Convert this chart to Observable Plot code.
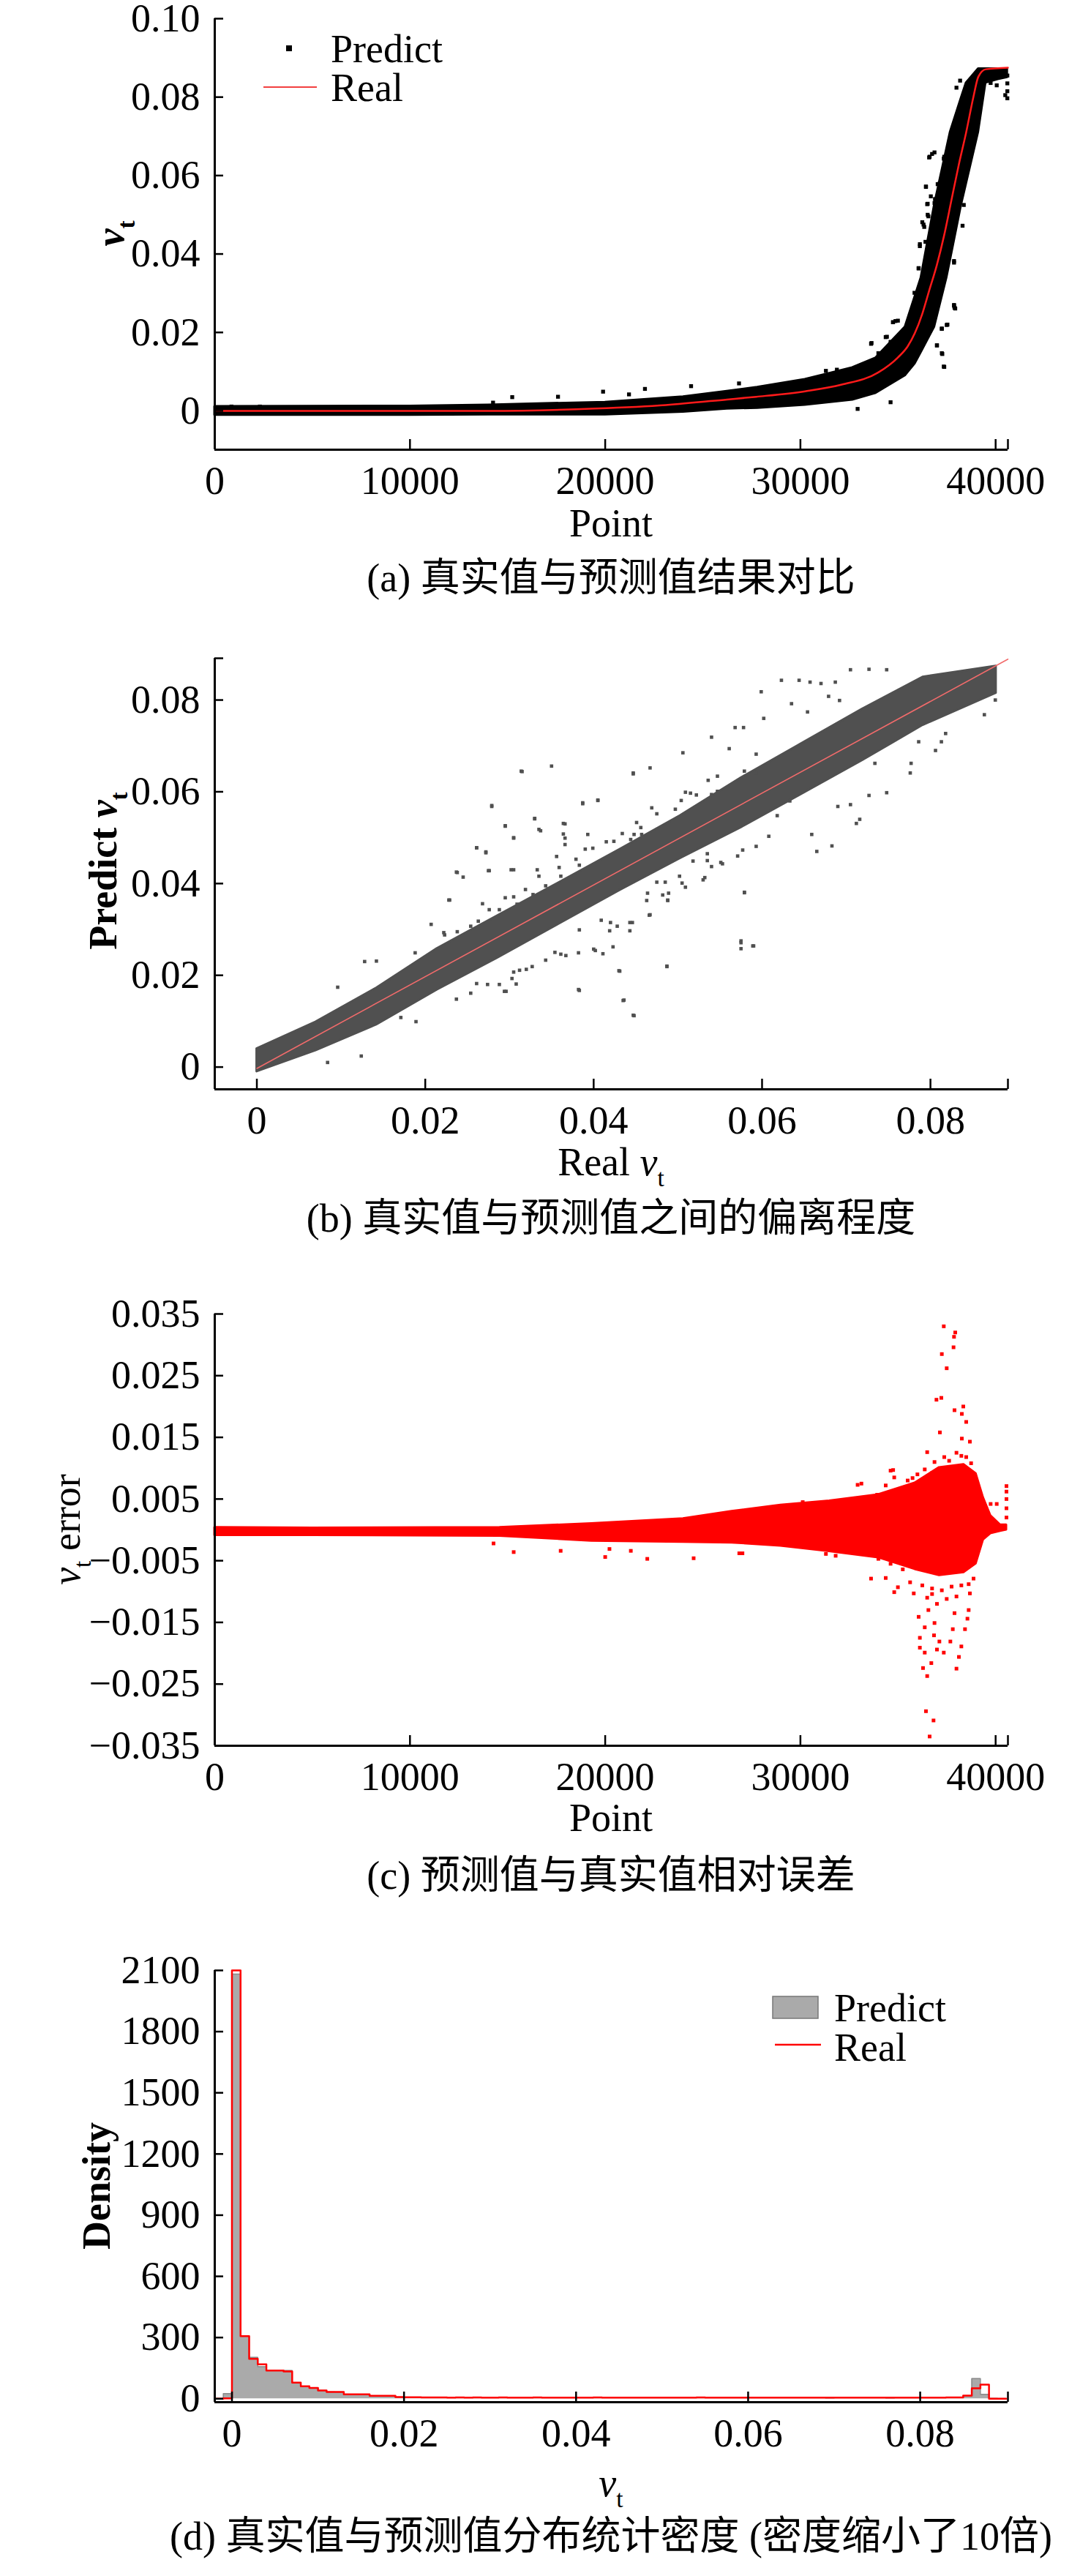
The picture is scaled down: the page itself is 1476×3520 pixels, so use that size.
<!DOCTYPE html>
<html>
<head>
<meta charset="utf-8">
<script src="https://cdn.jsdelivr.net/npm/d3@7"></script>
<script src="https://cdn.jsdelivr.net/npm/@observablehq/plot@0.6"></script>
<style>
html,body{margin:0;padding:0;background:#fff;overflow:hidden;}
body{width:1476px;height:3520px;position:relative;font-family:'Liberation Serif','Noto Sans CJK SC',serif;}
.panel{position:absolute;left:0;width:1476px;}
.caption{position:absolute;left:135px;width:1400px;text-align:center;font-size:54px;line-height:54px;white-space:nowrap;color:#000;font-family:'Liberation Serif','Noto Sans CJK SC',serif;}
</style>
</head>
<body>
<div id="pa" class="panel" style="top:0px"></div>
<div class="caption" style="top:763px">(a) 真实值与预测值结果对比</div>
<div id="pb" class="panel" style="top:830px"></div>
<div class="caption" style="top:1638px">(b) 真实值与预测值之间的偏离程度</div>
<div id="pc" class="panel" style="top:1720px"></div>
<div class="caption" style="top:2536px">(c) 预测值与真实值相对误差</div>
<div id="pd" class="panel" style="top:2610px"></div>
<div class="caption" style="top:3439px">(d) 真实值与预测值分布统计密度 (密度缩小了10倍)</div>
<script>
// ---------- Panel (a): real curve and predicted cloud over Point index ----------
const aRealPoint = [0, 14000, 19480, 23110, 26240, 27740, 30240, 32120, 33990, 34990, 35490, 35860, 36240, 36610, 36990, 37360, 37740, 38110, 38490, 38860, 39115, 39500, 40630];
const aRealValue = [0, 0.0000, 0.0006, 0.0015, 0.0029, 0.0036, 0.0050, 0.0067, 0.0098, 0.0136, 0.0164, 0.0198, 0.0247, 0.0309, 0.0372, 0.0447, 0.0538, 0.0627, 0.0710, 0.0800, 0.0852, 0.0871, 0.0875];
const aBandPoint = [0, 10000, 14000, 20000, 24000, 26240, 27800, 30240, 32670, 33869, 35369, 35869, 36181, 36869, 37494, 37681, 38244, 38494, 39119, 39494, 40120, 40600];
const aBandLow   = [-0.0011, -0.0011, -0.0010, -0.0010, -0.0003, 0.0005, 0.0007, 0.0015, 0.0028, 0.0045, 0.0090, 0.0120, 0.0149, 0.0214, 0.0339, 0.0385, 0.0525, 0.0578, 0.0711, 0.0836, 0.0845, 0.0850];
const aBandHigh  = [0.0011, 0.0012, 0.0015, 0.0022, 0.0036, 0.0050, 0.0060, 0.0080, 0.0110, 0.0135, 0.0214, 0.0291, 0.0339, 0.0525, 0.0668, 0.0711, 0.0798, 0.0836, 0.0872, 0.0872, 0.0872, 0.0872];
const aOutlierPoint = [36744, 36619, 37369, 36431, 37119, 36494, 36869, 36556, 36306, 36119, 37869, 36056, 37869, 37931, 37494, 37244, 36994, 37244, 37369, 33619, 34369, 34744, 34994, 32931, 34619, 31869, 31306, 33994, 14256, 15238, 19892, 21219, 22037, 24400, 26855, 17583, 857, 2312, 40600, 40600, 40600, 40600,
  36594, 36869, 37344, 36431, 37031, 36681, 36519, 36894, 36244, 36344, 36519, 36119, 36406, 36056, 36306, 35844, 37869, 38369, 38306, 37869, 37894, 37531, 37244, 36994, 37269, 37344, 34869, 34744, 34431, 34619, 33644, 37994, 38181, 39744, 40056, 40494];
const aOutlierValue = [0.0655, 0.0648, 0.0648, 0.0572, 0.0579, 0.0527, 0.0530, 0.0496, 0.0475, 0.0420, 0.0378, 0.0364, 0.0268, 0.0261, 0.0219, 0.0209, 0.0167, 0.0147, 0.0112, 0.0171, 0.0188, 0.0226, 0.0230, 0.0005, 0.0022, 0.0105, 0.0102, 0.0147, 0.0021, 0.0035, 0.0049, 0.0042, 0.0056, 0.0063, 0.0070, 0.0036, 0.0011, 0.0011, 0.0855, 0.0835, 0.0815, 0.0797,
  0.0646, 0.0659, 0.0643, 0.0571, 0.0578, 0.0547, 0.0528, 0.0540, 0.0481, 0.0469, 0.0500, 0.0425, 0.0431, 0.0363, 0.0357, 0.0301, 0.0382, 0.0525, 0.0472, 0.0270, 0.0263, 0.0220, 0.0210, 0.0167, 0.0145, 0.0113, 0.0229, 0.0226, 0.0189, 0.0176, 0.0173, 0.0824, 0.0842, 0.0836, 0.0830, 0.0805];
const aXTicks = [0, 10000, 20000, 30000, 40000];
const aYTicks = [0, 0.02, 0.04, 0.06, 0.08, 0.10];

// ---------- Panel (b): predicted vs real ----------
const bBandReal = [0, 0.007, 0.0142, 0.0214, 0.0286, 0.0359, 0.0431, 0.0503, 0.0575, 0.0647, 0.0719, 0.0791, 0.0878];
const bBandLow  = [-0.0010, 0.0036, 0.0092, 0.0168, 0.0238, 0.0312, 0.0385, 0.0455, 0.0522, 0.0595, 0.0668, 0.0745, 0.0815];
const bBandHigh = [0.0040, 0.0098, 0.0172, 0.0258, 0.0330, 0.0402, 0.0474, 0.0548, 0.0630, 0.0705, 0.0780, 0.0850, 0.0874];
const bOutlierReal = [0.0314,0.0350,0.0279,0.0295,0.0330,0.0305,0.0261,0.0272,0.0237,0.0276,0.0302,0.0229,0.0335,0.0364,0.0366,0.0387,0.0405,0.0447,0.0467,0.0506,0.0540,0.0568,0.0578,0.0602,0.0599,0.0623,0.0644,0.0657,0.0670,0.0687,0.0705,0.0727,0.0748,0.0635,0.0654,0.0679,0.0692,0.0712,0.0716,0.0665,0.0683,0.0659,0.0579,0.0575,0.0589,0.0487,0.0431,0.0382,0.0436,0.0447,0.0402,0.0420,0.0443,0.0467,0.0535,0.0551,0.0505,0.0488,0.0532,0.0748,0.0727,0.0776,0.0806,0.0818,0.0864,0.0877,0.0813,0.0705,0.0690,0.0124,0.0084,0.0096,0.0128,0.0142,0.0207,0.0222,0.0188,0.0294,0.0308,0.0189,0.0171,0.0618,0.0633,0.0608,0.0561,0.0593,0.0734,0.0786,0.0777,
  0.0315,0.0447,0.0279,0.0387,0.0405,0.0330,0.0295,0.0337,0.0305,0.0261,0.0272,0.0366,0.0364,0.0366,0.0393,0.0390,0.0356,0.0238,0.0245,0.0275,0.0305,0.0333,0.0228,0.0268,0.0295,0.0305,0.0579,0.0530,0.0509,0.0488,0.0466,0.0446,0.0443,0.0428,0.0409,0.0419,0.0423,0.0383,0.0400,0.0411,0.0382,0.0367,0.0361,0.0354,0.0343,0.0327,0.0320,0.0312,0.0305,0.0303,0.0296,0.0288,0.0274,0.0261,0.0254,0.0237,0.0383,0.0430,0.0435,0.0448,0.0487,0.0575,0.0575,0.0590,0.0571,0.0577,0.0593,0.0553,0.0540,0.0518,0.0535,0.0502,0.0485,0.0475,0.0464,0.0463,0.0489,0.0482,0.0469,0.0475,0.0497,0.0504,0.0521,0.0536,0.0547,0.0579,0.0593,0.0509,0.0515,0.0522,0.0540,0.0547,0.0456,0.0451,0.0434,0.0444,0.0448,0.0457,0.0415,0.0424,0.0399,0.0379,0.0383,0.0359,0.0361,0.0335,0.0343,0.0319,0.0328,0.0309,0.0288,0.0276,0.0263,0.0254,0.0238,0.0223];
const bOutlierPred = [0.0645,0.0656,0.0570,0.0526,0.0542,0.0500,0.0478,0.0469,0.0425,0.0428,0.0430,0.0364,0.0518,0.0531,0.0499,0.0576,0.0582,0.0641,0.0652,0.0685,0.0719,0.0740,0.0740,0.0760,0.0818,0.0843,0.0843,0.0839,0.0836,0.0839,0.0866,0.0867,0.0866,0.0792,0.0774,0.0808,0.0799,0.0531,0.0540,0.0470,0.0482,0.0507,0.0381,0.0271,0.0264,0.0220,0.0209,0.0169,0.0146,0.0113,0.0254,0.0315,0.0315,0.0332,0.0450,0.0446,0.0401,0.0364,0.0413,0.0598,0.0592,0.0641,0.0690,0.0727,0.0768,0.0800,0.0709,0.0572,0.0568,0.0024,0.0010,0.0174,0.0230,0.0231,0.0311,0.0293,0.0249,0.0165,0.0181,0.0099,0.0108,0.0548,0.0580,0.0503,0.0694,0.0682,0.0662,0.0709,0.0662,
  0.0644,0.0639,0.0568,0.0574,0.0581,0.0541,0.0525,0.0515,0.0499,0.0478,0.0467,0.0530,0.0508,0.0485,0.0507,0.0475,0.0459,0.0424,0.0414,0.0428,0.0430,0.0430,0.0364,0.0356,0.0369,0.0371,0.0380,0.0408,0.0392,0.0363,0.0331,0.0315,0.0297,0.0307,0.0320,0.0297,0.0262,0.0299,0.0257,0.0247,0.0249,0.0243,0.0246,0.0250,0.0233,0.0219,0.0213,0.0211,0.0207,0.0193,0.0165,0.0180,0.0180,0.0182,0.0161,0.0148,0.0167,0.0210,0.0145,0.0112,0.0219,0.0275,0.0258,0.0264,0.0460,0.0473,0.0481,0.0443,0.0437,0.0449,0.0465,0.0416,0.0403,0.0403,0.0379,0.0363,0.0379,0.0375,0.0565,0.0552,0.0562,0.0581,0.0566,0.0625,0.0634,0.0645,0.0641,0.0599,0.0597,0.0593,0.0594,0.0601,0.0522,0.0533,0.0509,0.0496,0.0507,0.0507,0.0491,0.0492,0.0477,0.0453,0.0440,0.0435,0.0416,0.0416,0.0395,0.0387,0.0376,0.0355,0.0343,0.0343,0.0318,0.0307,0.0295,0.0288];
const bDiagReal = [0, 0.0892];
const bDiagPred = [-0.0003, 0.0889];
const bTicks = [0, 0.02, 0.04, 0.06, 0.08];

// ---------- Panel (c): error over Point index ----------
const cBandPoint = [0, 5000, 14600, 19300, 24000, 26494, 28994, 31494, 33994, 35870, 37120, 38370, 38994, 39370, 39744, 40244, 40556];
const cBandLow   = [-0.0009, -0.0009, -0.0010, -0.0018, -0.0020, -0.0021, -0.0026, -0.0035, -0.0045, -0.0064, -0.0074, -0.0069, -0.0055, -0.0016, -0.0006, -0.0002, 0.0000];
const cBandHigh  = [0.0004, 0.0003, 0.0004, 0.0010, 0.0018, 0.0030, 0.0040, 0.0047, 0.0057, 0.0076, 0.0101, 0.0106, 0.0091, 0.0052, 0.0023, 0.0008, 0.0008];
const cOutlierPoint = [37344,37931,37869,37844,37244,37494,36969,37219,37894,38344,38269,38494,37144,38269,38681,36494,34619,34806,32931,34369,35744,40556,40556,40556,40556,40556,40056,39744,30119,30869,31619,32619,33431,33931,33125,34750,36369,36869,37369,37619,37994,38244,38494,36744,38744,35994,35494,
  36619,36819,36431,36494,36281,36706,37994,38119,38244,37344,36994,36119,36369,37119,37681,36119,36844,36369,37806,38431,36056,36869,38556,37894,38619,36556,36994,38681,36744,35806,34806,34994,33619,34369,26869,31306,31806,33994,34619,35244,38869,15313,17719,20000,21313,22156,24531,27031,20219,14281,36244,36744,37244,37744,38244,38619,36494,37494,35619,37994];
const cOutlierValue = [0.0330,0.0320,0.0313,0.0296,0.0285,0.0262,0.0211,0.0214,0.0194,0.0200,0.0188,0.0175,0.0158,0.0148,0.0143,0.0126,0.0096,0.0085,0.0073,0.0072,0.0084,0.0071,0.0062,0.0050,0.0035,0.0020,0.0042,0.0042,0.0045,0.0038,0.0045,0.0047,0.0053,0.0057,0.0075,0.0097,0.0098,0.0110,0.0118,0.0112,0.0125,0.0120,0.0118,0.0092,0.0108,0.0090,0.0080,
  -0.0335,-0.0309,-0.0294,-0.0237,-0.0224,-0.0216,-0.0225,-0.0206,-0.0189,-0.0199,-0.0194,-0.0191,-0.0199,-0.0181,-0.0181,-0.0175,-0.0171,-0.0158,-0.0161,-0.0161,-0.0141,-0.0151,-0.0144,-0.0135,-0.0130,-0.0130,-0.0120,-0.0103,-0.0104,-0.0103,-0.0101,-0.0093,-0.0079,-0.0078,-0.0038,-0.0039,-0.0042,-0.0047,-0.0055,-0.0064,-0.0079,-0.0036,-0.0034,-0.0044,-0.0034,-0.0047,-0.0046,-0.0038,-0.0031,-0.0022,-0.0090,-0.0095,-0.0098,-0.0092,-0.0090,-0.0088,-0.0110,-0.0112,-0.0085,-0.0108];
const cXTicks = [0, 10000, 20000, 30000, 40000];
const cYTicks = [-0.035, -0.025, -0.015, -0.005, 0.005, 0.015, 0.025, 0.035];

// ---------- Panel (d): density histogram (bins of 0.001) ----------
const dBinStart = [-0.002,-0.001,0,0.001,0.002,0.003,0.004,0.005,0.006,0.007,0.008,0.009,0.010,0.011,0.012,0.013,0.014,0.015,0.016,0.017,0.018,0.019,0.020,0.021,0.022,0.023,0.024,0.025,0.026,0.027,0.028,0.029,0.030,0.031,0.032,0.033,0.034,0.035,0.036,0.037,0.038,0.039,0.040,0.041,0.042,0.043,0.044,0.045,0.046,0.047,0.048,0.049,0.050,0.051,0.052,0.053,0.054,0.055,0.056,0.057,0.058,0.059,0.060,0.061,0.062,0.063,0.064,0.065,0.066,0.067,0.068,0.069,0.070,0.071,0.072,0.073,0.074,0.075,0.076,0.077,0.078,0.079,0.080,0.081,0.082,0.083,0.084,0.085,0.086,0.087,0.088,0.089];
const dBinEnd = 0.090;
const dPredDensity = [0,25,2082,307,203,157,138,138,138,79,61,52,40,33,32,22,21,21,14,13,13,8,7,7,6,
  6,5,6,5,5,6,5,5,5,6,
  5,5,5,5,6,5,5,5,5,5,
  5,5,6,5,5,5,5,5,5,5,
  5,5,5,5,5,5,5,5,5,5,
  5,5,5,5,5,5,4,5,5,5,
  5,5,5,4,5,5,5,5,5,5,
  5,6,
  14,99,22,2,1];
const dRealDensity = [0,2,2100,307,196,169,138,138,134,79,61,53,40,33,33,22,22,22,14,14,14,8,7,7,6,
  6,6,5,6,5,6,5,5,6,5,
  5,5,6,5,5,5,5,5,5,6,
  5,5,5,5,5,5,5,5,5,5,
  5,6,5,5,5,5,5,5,5,5,
  5,5,5,5,5,5,5,5,5,5,
  5,5,5,5,5,5,5,5,5,5,
  6,6,
  15,51,69,0,0];
const dXTicks = [0, 0.02, 0.04, 0.06, 0.08];
const dYTicks = [0, 300, 600, 900, 1200, 1500, 1800, 2100];

// ---------- helpers ----------
const FONT = "'Liberation Serif','Noto Sans CJK SC',serif";
const baseStyle = {fontFamily: FONT, fontSize: "54px", color: "#000", background: "#fff", maxWidth: "none", overflow: "visible"};
const fmt2 = d => d === 0 ? "0" : d.toFixed(2);
const fmt3 = d => (d < 0 ? "\u2212" : "") + Math.abs(d).toFixed(3);
const fmtInt = d => String(d);

function axes({xMin, yMin, xEnd, yEnd, xTicks, yTicks, xFmt, yFmt}) {
  return [
    Plot.axisY(yEnd == null ? yTicks : [...yTicks, yEnd], {tickSize: -12, strokeWidth: 2.5, tickFormat: () => "", label: null}),
    Plot.axisX(xEnd == null ? xTicks : [...xTicks, xEnd], {tickSize: -14, strokeWidth: 2.5, tickFormat: () => "", label: null}),
    Plot.axisY(yTicks, {tickSize: 0, tickPadding: 20, tickFormat: yFmt, label: null}),
    Plot.axisX(xTicks, {tickSize: 0, tickPadding: 22, tickFormat: xFmt, label: null}),
    Plot.ruleX([xMin], {strokeWidth: 3}),
    Plot.ruleY([yMin], {strokeWidth: 3})
  ];
}

function addLabel(svg, x, y, parts, rotate = 0, size = 54) {
  const t = d3.select(svg).append("text")
    .attr("transform", `translate(${x},${y}) rotate(${rotate})`)
    .attr("text-anchor", "middle")
    .attr("dy", "0.35em")
    .attr("fill", "#000")
    .style("white-space", "pre")
    .style("font-family", FONT)
    .style("font-size", size + "px");
  let shift = 0;
  for (const p of parts) {
    const ts = t.append("tspan").text(p.t);
    if (p.i) ts.style("font-style", "italic");
    if (p.b) ts.style("font-weight", "bold");
    if (p.sub) { shift = size * 0.28; ts.attr("dy", shift).style("font-size", (size * 0.62) + "px"); }
    else if (shift) { ts.attr("dy", -shift); shift = 0; }
  }
}

function addText(svg, x, y, text, size = 54) {
  d3.select(svg).append("text").attr("x", x).attr("y", y).attr("dy", "0.35em")
    .attr("text-anchor", "start")
    .attr("fill", "#000").style("font-family", FONT).style("font-size", size + "px").text(text);
}

// ---------- build panel (a) ----------
const aReal = aRealPoint.map((p, i) => ({point: p, v: aRealValue[i]}));
const aBand = aBandPoint.map((p, i) => ({point: p, lo: aBandLow[i], hi: aBandHigh[i]}));
const aOut = aOutlierPoint.map((p, i) => ({point: p, v: aOutlierValue[i]}));
const svgA = Plot.plot({
  width: 1476, height: 740, marginLeft: 293, marginRight: 99, marginTop: 25, marginBottom: 126,
  style: baseStyle,
  x: {domain: [0, 40630]},
  y: {domain: [-0.0099, 0.10]},
  marks: [
    Plot.areaY(aBand, {x: "point", y1: "lo", y2: "hi", fill: "#000", stroke: "#000", strokeWidth: 3}),
    Plot.dot(aOut, {x: "point", y: "v", symbol: "square", r: 3, fill: "#000"}),
    Plot.line(aReal, {x: "point", y: "v", stroke: "#ff1a1a", strokeWidth: 2.5, curve: "monotone-x"}),
    ...axes({xMin: 0, yMin: -0.0099, xEnd: 40630, yEnd: null, xTicks: aXTicks, yTicks: aYTicks, xFmt: fmtInt, yFmt: fmt2})
  ]
});
document.getElementById("pa").appendChild(svgA);
addLabel(svgA, 835, 714, [{t: "Point"}]);
addLabel(svgA, 150, 319, [{t: "v", i: true, b: true}, {t: "t", sub: true, b: true}], -90);
d3.select(svgA).append("rect").attr("x", 391).attr("y", 62).attr("width", 8).attr("height", 8).attr("fill", "#000");
addText(svgA, 452, 66, "Predict");
d3.select(svgA).append("line").attr("x1", 360).attr("x2", 433).attr("y1", 119).attr("y2", 119).attr("stroke", "#e00").attr("stroke-width", 1.5);
addText(svgA, 452, 119, "Real");

// ---------- build panel (b) ----------
const bBand = bBandReal.map((r, i) => ({real: r, lo: bBandLow[i], hi: bBandHigh[i]}));
const bOut = bOutlierReal.map((r, i) => ({real: r, pred: bOutlierPred[i]}));
const bDiag = bDiagReal.map((r, i) => ({real: r, pred: bDiagPred[i]}));
const svgB = Plot.plot({
  width: 1476, height: 790, marginLeft: 293, marginRight: 99, marginTop: 69, marginBottom: 132,
  style: baseStyle,
  x: {domain: [-0.005, 0.0892]},
  y: {domain: [-0.00485, 0.0891]},
  marks: [
    Plot.areaY(bBand, {x: "real", y1: "lo", y2: "hi", fill: "#505050", stroke: "#505050", strokeWidth: 3}),
    Plot.dot(bOut, {x: "real", y: "pred", symbol: "square", r: 2.6, fill: "#505050"}),
    Plot.line(bDiag, {x: "real", y: "pred", stroke: "#f26b6b", strokeWidth: 1.6}),
    ...axes({xMin: -0.005, yMin: -0.00485, xEnd: 0.0892, yEnd: 0.0891, xTicks: bTicks, yTicks: bTicks, xFmt: fmt2, yFmt: fmt2})
  ]
});
document.getElementById("pb").appendChild(svgB);
addLabel(svgB, 835, 757, [{t: "Real "}, {t: "v", i: true}, {t: "t", sub: true}]);
addLabel(svgB, 140, 360, [{t: "Predict ", b: true}, {t: "v", i: true, b: true}, {t: "t", sub: true, b: true}], -90);

// ---------- build panel (c) ----------
const cBand = cBandPoint.map((p, i) => ({point: p, lo: cBandLow[i], hi: cBandHigh[i]}));
const cOut = cOutlierPoint.map((p, i) => ({point: p, v: cOutlierValue[i]}));
const svgC = Plot.plot({
  width: 1476, height: 795, marginLeft: 293, marginRight: 99, marginTop: 75, marginBottom: 130,
  style: baseStyle,
  x: {domain: [0, 40630]},
  y: {domain: [-0.035, 0.035]},
  marks: [
    Plot.areaY(cBand, {x: "point", y1: "lo", y2: "hi", fill: "#ff0000", stroke: "#ff0000", strokeWidth: 3}),
    Plot.dot(cOut, {x: "point", y: "v", symbol: "square", r: 2.8, fill: "#ff0000"}),
    ...axes({xMin: 0, yMin: -0.035, xEnd: 40630, yEnd: null, xTicks: cXTicks, yTicks: cYTicks, xFmt: fmtInt, yFmt: fmt3})
  ]
});
document.getElementById("pc").appendChild(svgC);
addLabel(svgC, 835, 763, [{t: "Point"}]);
addLabel(svgC, 90, 370, [{t: "v", i: true}, {t: "t", sub: true}, {t: " error"}], -90);

// ---------- build panel (d) ----------
const dHist = dBinStart.map((x, i) => ({x, pred: dPredDensity[i], real: dRealDensity[i]}));
dHist.push({x: dBinEnd, pred: dPredDensity[dPredDensity.length - 1], real: dRealDensity[dRealDensity.length - 1]});
const svgD = Plot.plot({
  width: 1476, height: 815, marginLeft: 293, marginRight: 99, marginTop: 82, marginBottom: 143,
  style: baseStyle,
  x: {domain: [-0.002, 0.0902]},
  y: {domain: [-17, 2100]},
  marks: [
    Plot.areaY(dHist, {x: "x", y: "pred", curve: "step-after", fill: "#aaaaaa"}),
    Plot.lineY(dHist, {x: "x", y: "pred", curve: "step-after", stroke: "#8a8a8a", strokeWidth: 1.5}),
    Plot.lineY(dHist, {x: "x", y: "real", curve: "step-after", stroke: "#ff0000", strokeWidth: 2.5}),
    ...axes({xMin: -0.002, yMin: -17, xEnd: 0.0902, yEnd: null, xTicks: dXTicks, yTicks: dYTicks, xFmt: fmt2, yFmt: fmtInt})
  ]
});
document.getElementById("pd").appendChild(svgD);
addLabel(svgD, 835, 782, [{t: "v", i: true}, {t: "t", sub: true}]);
addLabel(svgD, 131, 377, [{t: "Density", b: true}], -90);
d3.select(svgD).append("rect").attr("x", 1056).attr("y", 118).attr("width", 62).attr("height", 30).attr("fill", "#aaaaaa").attr("stroke", "#777").attr("stroke-width", 1.5);
addText(svgD, 1140, 133, "Predict");
d3.select(svgD).append("line").attr("x1", 1059).attr("x2", 1122).attr("y1", 184).attr("y2", 184).attr("stroke", "#ff0000").attr("stroke-width", 2.5);
addText(svgD, 1140, 187, "Real");
</script>
</body>
</html>
